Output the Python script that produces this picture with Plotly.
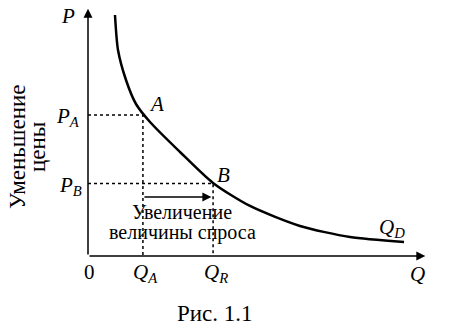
import plotly.graph_objects as go

# Demand curve points (Q, P), axis units 0..10
curve_q = [0.796, 0.885, 1.121, 1.416, 1.829, 2.714, 3.687, 4.779, 6.254, 7.729, 9.322]
curve_p = [9.797, 8.374, 7.154, 6.179, 5.447, 4.228, 2.97, 2.033, 1.220, 0.772, 0.569]

point_labels = ["A", "B"]
q_points = [1.62, 3.69]
p_points = [5.73, 2.95]

FONT = "Liberation Serif, DejaVu Serif, Times New Roman, serif"
BLACK = "#000000"
XR, YR = 10.0, 10.0

fig = go.Figure()

# dotted guides
for q, p in zip(q_points, p_points):
    fig.add_trace(go.Scatter(x=[0, q, q], y=[p, p, 0], mode="lines",
                             line=dict(color=BLACK, width=1.5, dash="dot"),
                             hoverinfo="skip", showlegend=False))

# demand curve
fig.add_trace(go.Scatter(x=curve_q, y=curve_p, mode="lines",
                         line=dict(color=BLACK, width=2.5, shape="spline", smoothing=0.7),
                         hoverinfo="skip", showlegend=False))

ann = []

def arrow(x0, y0, x1, y1, w=1.5):
    ann.append(dict(x=x1, y=y1, ax=x0, ay=y0, xref="x", yref="y", axref="x", ayref="y",
                    showarrow=True, arrowhead=2, arrowsize=1.2, arrowwidth=w,
                    arrowcolor=BLACK, text=""))

# axes
arrow(0, 0, 0, 10.05)
arrow(0, 0, 9.95, 0)
# price decrease arrow
arrow(-1.12, p_points[0], -1.12, p_points[1] - 0.05)
# quantity increase arrow
arrow(q_points[0], 2.40, q_points[1] - 0.05, 2.40)

def text(x, y, t, size=21, italic=False, angle=0):
    ann.append(dict(x=x / XR, y=y / YR, xref="paper", yref="paper", text=t, showarrow=False,
                    textangle=angle, xanchor="center", yanchor="middle",
                    font=dict(family=FONT, size=size, color=BLACK,
                              style="italic" if italic else "normal")))

text(-0.59, 9.76, "P", italic=True)
text(-0.59, 5.65, "P<sub>A</sub>", italic=True)
text(-0.53, 2.85, "P<sub>B</sub>", italic=True)
text(0.03, -0.65, "0")
text(1.71, -0.69, "Q<sub>A</sub>", italic=True)
text(3.78, -0.69, "Q<sub>R</sub>", italic=True)
text(9.73, -0.73, "Q", italic=True)
text(2.01, 6.16, point_labels[0], italic=True)
text(4.01, 3.29, point_labels[1], italic=True)
text(8.97, 1.14, "Q<sub>D</sub>", italic=True)
text(-2.08, 4.45, "Уменьшение", size=23, angle=-90)
text(-1.49, 4.45, "цены", size=23, angle=-90)
text(2.77, 1.79, "Увеличение", size=20)
text(2.80, 0.96, "величины спроса", size=20)
text(3.74, -2.32, "Рис. 1.1", size=23)

fig.update_layout(
    width=450, height=331,
    margin=dict(l=88, r=23, t=10, b=75),
    paper_bgcolor="white", plot_bgcolor="white",
    font=dict(family=FONT),
    xaxis=dict(range=[0, XR], visible=False, fixedrange=True),
    yaxis=dict(range=[0, YR], visible=False, fixedrange=True),
    annotations=ann,
    showlegend=False,
)

fig.write_html("out.html")
